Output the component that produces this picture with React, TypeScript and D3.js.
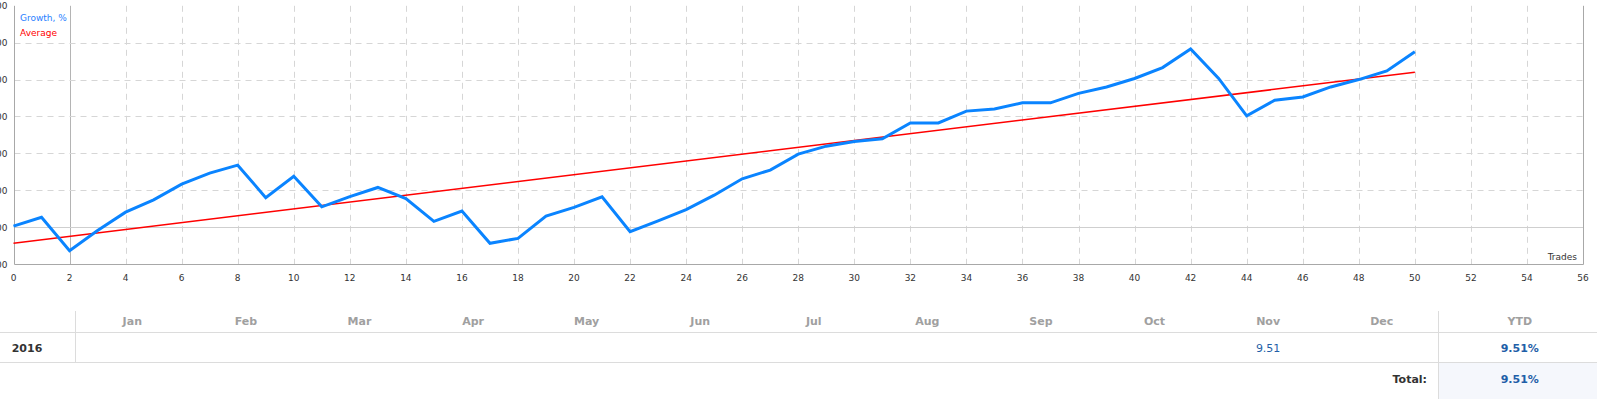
import React from "react";
import * as d3 from "d3";

const growth: number[] = [
  0.05, 0.53, -1.28, -0.18, 0.81, 1.48, 2.33, 2.93, 3.36, 1.6,
  2.76, 1.1, 1.65, 2.15, 1.55, 0.31, 0.87, -0.88, -0.61, 0.6,
  1.07, 1.64, -0.25, 0.34, 0.95, 1.73, 2.62, 3.09, 3.96, 4.39,
  4.64, 4.79, 5.65, 5.65, 6.29, 6.41, 6.74, 6.74, 7.25, 7.6,
  8.06, 8.65, 9.66, 8.06, 6.03, 6.88, 7.06, 7.6, 8.0, 8.47, 9.51,
];
const averageEnds: number[] = [-0.87, 8.4];
const xTicks: number[] = d3.range(0, 57, 2);
const yTicks: number[] = [-2, 0, 2, 4, 6, 8, 10, 12];
const months: string[] = ["Jan", "Feb", "Mar", "Apr", "May", "Jun", "Jul", "Aug", "Sep", "Oct", "Nov", "Dec"];
const years: string[] = ["2016"];
const monthValues: (string | null)[] = [null, null, null, null, null, null, null, null, null, null, "9.51", null];
const ytd: string[] = ["9.51%"];
const total = "9.51%";

const W = 1597;
const H = 399;
const FONT = "'DejaVu Sans', Verdana, sans-serif";

export default function App() {
  const x = d3.scaleLinear().domain([0, 56]).range([13.5, 1583]);
  const y = d3.scaleLinear().domain([-2, 12]).range([264, 5.8]);
  const cx = (v: number) => Math.round(x(v)) + 0.5;
  const cy = (v: number) => Math.round(y(v)) + 0.5;

  const line = d3
    .line<number>()
    .x((_, i) => x(i))
    .y((d) => y(d));
  const avgLine = d3
    .line<number>()
    .x((_, i) => x(i * (growth.length - 1)))
    .y((d) => y(d));

  const left = cx(0);
  const right = cx(56);
  const top = y(12);
  const bottom = cy(-2);

  // table geometry
  const tLeft = 75.5;
  const tYtd = 1438.5;
  const colW = (tYtd - tLeft) / 12;
  const hdrTop = 311;
  const hdrLine = 332.5;
  const rowLine = 362.5;

  return (
    <svg
      width={W}
      height={H}
      style={{ position: "absolute", left: 0, top: 0, background: "#fff" }}
      fontFamily={FONT}
    >
      {/* grid */}
      {xTicks
        .filter((t) => t > 0 && t < 56)
        .map((t) => (
          <line
            key={"gx" + t}
            x1={cx(t)}
            x2={cx(t)}
            y1={top}
            y2={bottom}
            stroke={t === 2 ? "#b4b4b4" : "#d6d6d6"}
            strokeDasharray={t === 2 ? undefined : "6,5"}
          />
        ))}
      {yTicks
        .filter((t) => t > -2 && t < 12)
        .map((t) => (
          <line
            key={"gy" + t}
            x1={left}
            x2={right}
            y1={cy(t)}
            y2={cy(t)}
            stroke={t === 0 ? "#cfcfcf" : "#d6d6d6"}
            strokeDasharray={t === 0 ? undefined : "6,5"}
          />
        ))}
      {/* axes */}
      <line x1={left} x2={left} y1={top} y2={bottom} stroke="#a8a8a8" />
      <line x1={right} x2={right} y1={top} y2={bottom} stroke="#a8a8a8" />
      <line x1={left} x2={right} y1={bottom} y2={bottom} stroke="#a8a8a8" />

      {/* y labels (clipped at the page edge) */}
      {yTicks.map((t) => (
        <text key={"yl" + t} x={7.5} y={y(t) + 3.5} textAnchor="end" fontSize={9} fill="#333">
          {t.toFixed(2)}
        </text>
      ))}
      {/* x labels */}
      {xTicks.map((t) => (
        <text key={"xl" + t} x={x(t)} y={280.5} textAnchor="middle" fontSize={9} fill="#333">
          {t}
        </text>
      ))}
      <text x={1577} y={260} textAnchor="end" fontSize={9} fill="#333">
        Trades
      </text>

      {/* series */}
      <path d={avgLine(averageEnds) || ""} fill="none" stroke="#ff0000" strokeWidth={1.5} />
      <path d={line(growth) || ""} fill="none" stroke="#0a84ff" strokeWidth={3} strokeLinejoin="miter" />

      {/* legend */}
      <text x={20} y={20.5} fontSize={9} fill="#2a7fff">
        Growth, %
      </text>
      <text x={20} y={36} fontSize={9} fill="#ff0000">
        Average
      </text>

      {/* table */}
      <rect x={tYtd} y={rowLine} width={W - tYtd} height={H - rowLine} fill="#f5f7fc" />
      <line x1={0} x2={W} y1={hdrLine} y2={hdrLine} stroke="#dcdcdc" />
      <line x1={0} x2={W} y1={rowLine} y2={rowLine} stroke="#dcdcdc" />
      <line x1={tLeft} x2={tLeft} y1={hdrTop} y2={rowLine} stroke="#dcdcdc" />
      <line x1={tYtd} x2={tYtd} y1={hdrTop} y2={H} stroke="#dcdcdc" />
      {months.map((m, i) => (
        <text
          key={m}
          x={tLeft + colW * (i + 0.5)}
          y={325}
          textAnchor="middle"
          fontSize={11}
          fontWeight="bold"
          fill="#a0a0a0"
        >
          {m}
        </text>
      ))}
      <text x={(tYtd + 1601) / 2} y={325} textAnchor="middle" fontSize={11} fontWeight="bold" fill="#a0a0a0">
        YTD
      </text>
      {years.map((yr, r) => (
        <g key={yr}>
          <text x={27} y={351.5} textAnchor="middle" fontSize={11} fontWeight="bold" fill="#333">
            {yr}
          </text>
          {monthValues.map((v, i) =>
            v ? (
              <text
                key={"mv" + i}
                x={tLeft + colW * (i + 0.5)}
                y={351.5}
                textAnchor="middle"
                fontSize={11}
                fill="#1f5fa8"
              >
                {v}
              </text>
            ) : null
          )}
          <text x={(tYtd + 1601) / 2} y={351.5} textAnchor="middle" fontSize={11} fontWeight="bold" fill="#1f5fa8">
            {ytd[r]}
          </text>
        </g>
      ))}
      <text x={1427} y={382.5} textAnchor="end" fontSize={11} fontWeight="bold" fill="#333">
        Total:
      </text>
      <text x={(tYtd + 1601) / 2} y={382.5} textAnchor="middle" fontSize={11} fontWeight="bold" fill="#1f5fa8">
        {total}
      </text>
    </svg>
  );
}
